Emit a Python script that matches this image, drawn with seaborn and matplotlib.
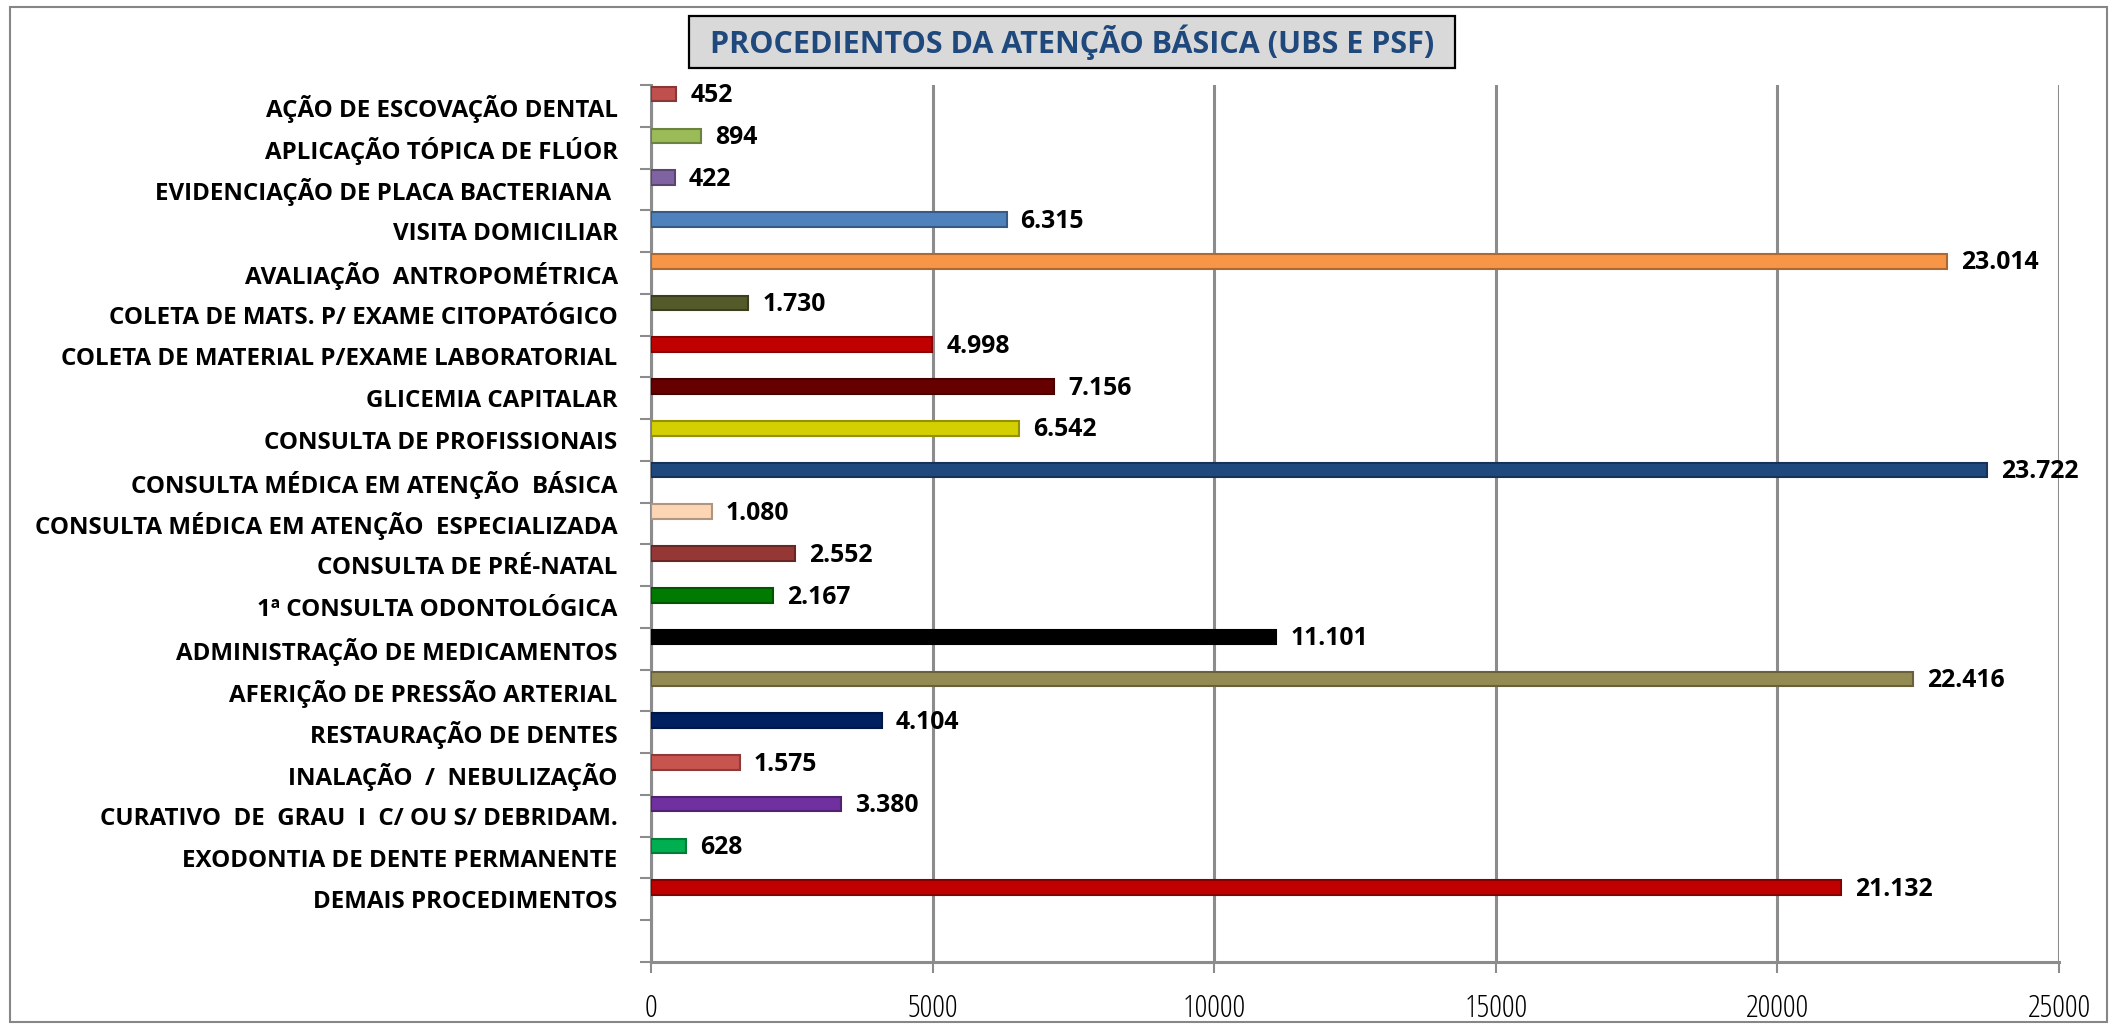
import matplotlib
matplotlib.use('Agg')
import matplotlib.pyplot as plt
import matplotlib.patches as mpatches
import matplotlib.colors as mcolors
from matplotlib import font_manager
import seaborn as sns
import pandas as pd
import numpy as np

# --- data ---
procedimentos = [
    'AÇÃO DE ESCOVAÇÃO DENTAL',
    'APLICAÇÃO TÓPICA DE FLÚOR',
    'EVIDENCIAÇÃO DE PLACA BACTERIANA ',
    'VISITA DOMICILIAR',
    'AVALIAÇÃO  ANTROPOMÉTRICA',
    'COLETA DE MATS. P/ EXAME CITOPATÓGICO',
    'COLETA DE MATERIAL P/EXAME LABORATORIAL',
    'GLICEMIA CAPITALAR',
    'CONSULTA DE PROFISSIONAIS',
    'CONSULTA MÉDICA EM ATENÇÃO  BÁSICA',
    'CONSULTA MÉDICA EM ATENÇÃO  ESPECIALIZADA',
    'CONSULTA DE PRÉ-NATAL',
    '1ª CONSULTA ODONTOLÓGICA',
    'ADMINISTRAÇÃO DE MEDICAMENTOS',
    'AFERIÇÃO DE PRESSÃO ARTERIAL',
    'RESTAURAÇÃO DE DENTES',
    'INALAÇÃO  /  NEBULIZAÇÃO',
    'CURATIVO  DE  GRAU  I  C/ OU S/ DEBRIDAM.',
    'EXODONTIA DE DENTE PERMANENTE',
    'DEMAIS PROCEDIMENTOS',
]
quantidades = [452, 894, 422, 6315, 23014, 1730, 4998, 7156, 6542, 23722,
               1080, 2552, 2167, 11101, 22416, 4104, 1575, 3380, 628, 21132]
cores = ['#C0504D', '#9BBB59', '#8064A2', '#4F81BD', '#F79646', '#555A2A',
         '#C00000', '#660000', '#D4CF00', '#1F497D', '#FCD5B5', '#953735',
         '#007A00', '#000000', '#948A54', '#002060', '#C85450', '#7030A0',
         '#00B050', '#C00000']
x_ticks = [0, 5000, 10000, 15000, 20000, 25000]
titulo = 'PROCEDIENTOS DA ATENÇÃO BÁSICA (UBS E PSF)'

W, H = 2118, 1027
GRID = '#8C8C8C'

sns.set_theme(style='white')

# the original uses Calibri (narrow); look for a condensed face if one exists
fonts = font_manager.fontManager.ttflist
names = {f.name for f in fonts}
FONT, STRETCH = 'Lato', 'normal'
if 'Liberation Sans Narrow' in names:
    FONT = 'Liberation Sans Narrow'
else:
    for fam in ['Noto Sans', 'Open Sans', 'Roboto']:
        cond = [f for f in fonts if f.name == fam and f.stretch in ('condensed', 'semi-condensed')]
        if cond:
            FONT = fam
            STRETCH = 'condensed' if any(f.stretch == 'condensed' for f in cond) else 'semi-condensed'
            break
plt.rcParams['font.family'] = [FONT, 'DejaVu Sans']
plt.rcParams['font.stretch'] = STRETCH

df = pd.DataFrame({'procedimento': procedimentos, 'quantidade': quantidades})

fig = plt.figure(figsize=(W / 100, H / 100), dpi=100, facecolor='white')
# plot area in pixels: x 651..2059, y 85..962
ax = fig.add_axes([651 / W, 1 - 962 / H, (2059 - 651) / W, (962 - 85) / H])

sns.barplot(data=df, y='procedimento', x='quantidade', hue='procedimento',
            palette=cores, legend=False, orient='h', width=0.35,
            saturation=1, ax=ax, zorder=3)

renderer = fig.canvas.get_renderer()


def fit(txt, target_px):
    w = txt.get_window_extent(renderer).width
    txt.set_fontsize(txt.get_fontsize() * target_px / w)


# bars sit in the upper part of each slot (Excel 3D look)
labels = []
for p in ax.patches:
    yc = p.get_y() + p.get_height() / 2
    i = int(round(yc))
    p.set_y(p.get_y() - 0.28)
    base = np.array(mcolors.to_rgb(p.get_facecolor()))
    p.set_edgecolor(base * 0.7)
    p.set_linewidth(1.5)
    v = quantidades[i]
    t = ax.annotate(f'{v:,}'.replace(',', '.'), xy=(v, i - 0.24), xytext=(10, 0),
                    textcoords='offset points', va='center', ha='left',
                    fontsize=17, fontweight='bold', color='black', zorder=4)
    labels.append(t)

ax.set_xlim(0, 25000)
ax.set_ylim(len(procedimentos) + 0.5, -0.5)
ax.set_xticks(x_ticks)
ax.set_xticklabels([str(x) for x in x_ticks])
ax.set_yticks(range(len(procedimentos)))
ax.set_yticklabels(procedimentos, fontweight='bold', color='black')
ax.set_yticks(np.arange(-0.5, len(procedimentos) + 1, 1), minor=True)
ax.tick_params(axis='y', which='major', length=0, pad=24)
ax.tick_params(axis='y', which='minor', length=8, width=1.5, color=GRID, left=True)
ax.tick_params(axis='x', which='major', length=8, width=1.5, color=GRID,
               bottom=True, pad=14, labelsize=17, labelcolor='black')
ax.set_xlabel('')
ax.set_ylabel('')

ax.xaxis.grid(True, color=GRID, linewidth=2.2, zorder=0)
ax.yaxis.grid(False)
ax.set_axisbelow(True)
for s in ['top', 'right']:
    ax.spines[s].set_visible(False)
for s in ['left', 'bottom']:
    ax.spines[s].set_color(GRID)
    ax.spines[s].set_linewidth(2.2)

# size the texts so they span about the same width as in the reference
fig.canvas.draw()
ylabs = ax.get_yticklabels()
longest = max(ylabs, key=lambda t: t.get_window_extent(renderer).width)
scale = 584 / longest.get_window_extent(renderer).width
for t in ylabs:
    t.set_fontsize(t.get_fontsize() * scale)
widest = max(labels, key=lambda t: len(t.get_text()))
fit(widest, 78)
for t in labels:
    t.set_fontsize(widest.get_fontsize())
xlabs = ax.get_xticklabels()
fit(xlabs[-1], 63)
for t in xlabs:
    t.set_fontsize(xlabs[-1].get_fontsize())

# title box
fig.patches.append(mpatches.Rectangle((689 / W, 1 - 68 / H), (1455 - 689) / W, 52 / H,
                                      transform=fig.transFigure, facecolor='#D9D9D9',
                                      edgecolor='black', linewidth=1.6, zorder=1))
tt = fig.text(1072 / W, 1 - 42 / H, titulo, ha='center', va='center',
              fontsize=26, fontweight='bold', color='#1F497D', zorder=2)
fit(tt, 727)

# outer chart frame
fig.patches.append(mpatches.Rectangle((10 / W, 1 - 1022 / H), (2107 - 10) / W, (1022 - 7) / H,
                                      transform=fig.transFigure, facecolor='none',
                                      edgecolor='#868686', linewidth=1.5, zorder=0))

fig.savefig('out.png', dpi=100, facecolor='white')
